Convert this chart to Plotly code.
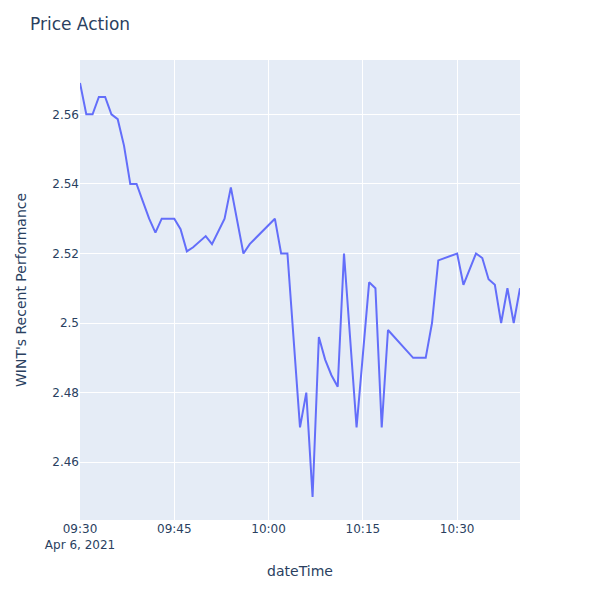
import pandas as pd
import plotly.graph_objects as go

minutes = [0, 1, 2, 3, 4, 5, 6, 7, 8, 9, 10, 11, 12, 13, 14, 15, 16, 17, 18, 19,
           20, 21, 22, 23, 24, 25, 26, 27, 31, 32, 33, 35, 36, 37, 38, 39, 40, 41,
           42, 44, 46, 47, 48, 49, 53, 54, 55, 56, 57, 60, 61, 63, 64, 65, 66, 67,
           68, 69, 70]
prices = [2.569, 2.56, 2.56, 2.565, 2.565, 2.56, 2.5586, 2.551, 2.54, 2.54, 2.535,
          2.53, 2.526, 2.53, 2.53, 2.53, 2.527, 2.5206, 2.5218, 2.5235, 2.525, 2.5227,
          2.5265, 2.53, 2.539, 2.5295, 2.52, 2.5227, 2.53, 2.52, 2.52, 2.47, 2.48,
          2.45, 2.496, 2.4895, 2.485, 2.4817, 2.52, 2.47, 2.5117, 2.51, 2.47, 2.498,
          2.49, 2.49, 2.49, 2.50, 2.518, 2.52, 2.511, 2.52, 2.5187, 2.5126, 2.511,
          2.50, 2.51, 2.50, 2.51]

start = pd.Timestamp("2021-04-06 09:30:00")
times = [start + pd.Timedelta(minutes=m) for m in minutes]

fig = go.Figure(go.Scatter(x=times, y=prices, mode="lines",
                           line=dict(color="#636efa", width=2)))
fig.update_layout(
    template="plotly",
    width=600, height=600,
    font=dict(family="DejaVu Sans"),
    title=dict(text="Price Action"),
    margin=dict(l=80, r=80, t=60, b=80),
    xaxis_title="dateTime",
    yaxis=dict(title=dict(text="WINT's Recent Performance", standoff=22)),
)
fig.write_html("out.html")
